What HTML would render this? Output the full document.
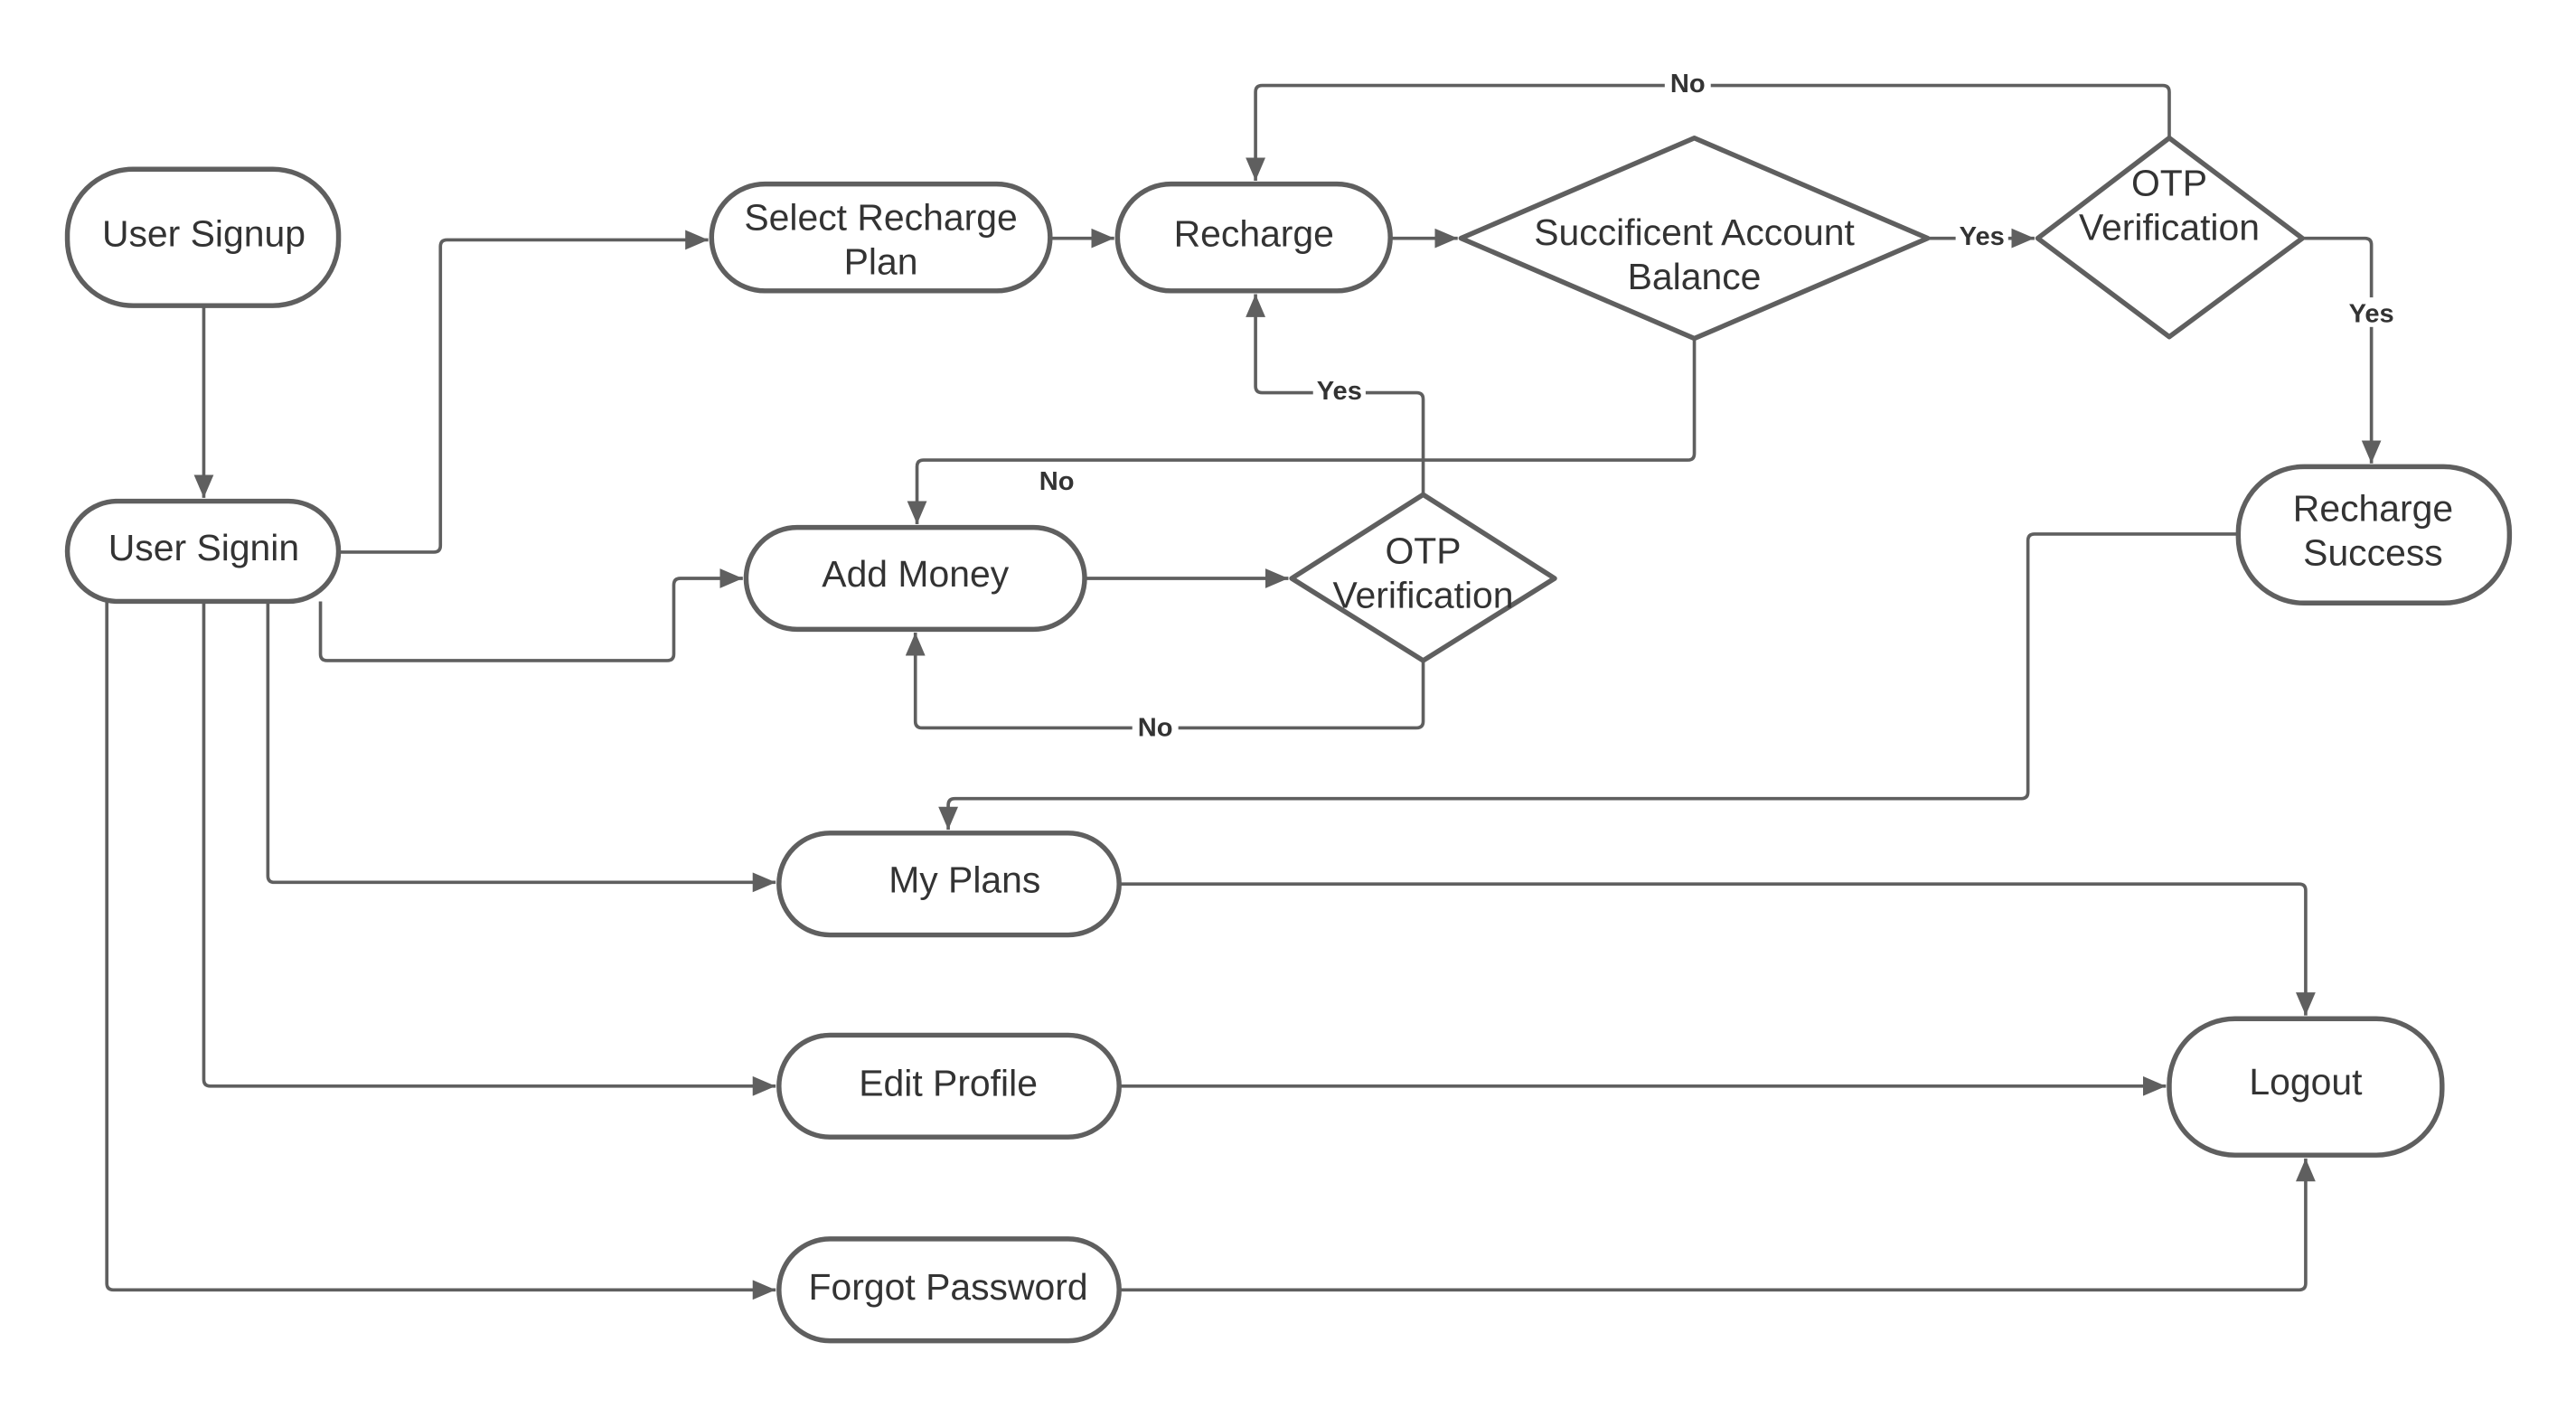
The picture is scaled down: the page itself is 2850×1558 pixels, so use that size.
<!DOCTYPE html>
<html><head><meta charset="utf-8"><style>
html,body{margin:0;padding:0;background:#fff;}
svg{display:block;}
text{font-family:"Liberation Sans",sans-serif;}
</style></head><body>
<svg width="2850" height="1558" viewBox="0 0 1567.5 856.9" preserveAspectRatio="none" xmlns="http://www.w3.org/2000/svg">
<defs>
<marker id="a" viewBox="0 0 14 12" refX="14" refY="6" markerWidth="14" markerHeight="12" markerUnits="userSpaceOnUse" orient="auto">
<path d="M0,0 L14,6 L0,12 Z" fill="#5f5f5f"/>
</marker>
</defs>
<g fill="none" stroke="#5f5f5f" stroke-width="2" stroke-linejoin="round" marker-end="url(#a)">
<path d="M124,186 V303"/>
<path d="M206,336 H264 Q268,336 268,332 V150 Q268,146 272,146 H431"/>
<path d="M195,366 V398 Q195,402 199,402 H406 Q410,402 410,398 V356 Q410,352 414,352 H452"/>
<path d="M163,366 V533 Q163,537 167,537 H472"/>
<path d="M124,366 V657 Q124,661 128,661 H472"/>
<path d="M65,366 V781 Q65,785 69,785 H472"/>
<path d="M639,145 H678"/>
<path d="M846,145 H887"/>
<path d="M1173,145 H1238"/>
<path d="M1320,84 V56 Q1320,52 1316,52 H768 Q764,52 764,56 V110"/>
<path d="M1401,145 H1439 Q1443,145 1443,149 V282"/>
<path d="M1031,206 V276 Q1031,280 1027,280 H562 Q558,280 558,284 V319"/>
<path d="M660,352 H784"/>
<path d="M866,301 V243 Q866,239 862,239 H768 Q764,239 764,235 V179"/>
<path d="M866,402 V439 Q866,443 862,443 H561 Q557,443 557,439 V385"/>
<path d="M1362,325 H1238 Q1234,325 1234,329 V482 Q1234,486 1230,486 H581 Q577,486 577,490 V505"/>
<path d="M681,538 H1399 Q1403,538 1403,542 V618"/>
<path d="M681,661 H1318"/>
<path d="M681,785 H1399 Q1403,785 1403,781 V705"/>
</g>
<g fill="#fff" stroke="#5f5f5f" stroke-width="3" stroke-linejoin="round">
<rect x="41" y="103" width="165" height="83" rx="40" ry="40"/>
<rect x="41" y="305" width="165" height="61" rx="30.5"/>
<rect x="433" y="112" width="206" height="65" rx="32.5"/>
<rect x="680" y="112" width="166" height="65" rx="32.5"/>
<path d="M1031,84 L1173,145 L1031,206 L889,145 Z"/>
<path d="M1320,84 L1401,145 L1320,205 L1240,145 Z"/>
<rect x="1362" y="284" width="165" height="83" rx="40" ry="40"/>
<rect x="454" y="321" width="206" height="62" rx="31"/>
<path d="M866,301 L946,352 L866,402 L786,352 Z"/>
<rect x="474" y="507" width="207" height="62" rx="31"/>
<rect x="474" y="630" width="207" height="62" rx="31"/>
<rect x="474" y="754" width="207" height="62" rx="31"/>
<rect x="1320" y="620" width="166" height="83" rx="40" ry="40"/>
</g>
<g fill="#333" font-size="22.5" text-anchor="middle">
<text x="124" y="150">User Signup</text>
<text x="124" y="341">User Signin</text>
<text x="536" y="140">Select Recharge</text>
<text x="536" y="167">Plan</text>
<text x="763" y="150">Recharge</text>
<text x="1031" y="149">Succificent Account</text>
<text x="1031" y="176">Balance</text>
<text x="1320" y="119">OTP</text>
<text x="1320" y="146">Verification</text>
<text x="1444" y="317">Recharge</text>
<text x="1444" y="344">Success</text>
<text x="557" y="357">Add Money</text>
<text x="866" y="343">OTP</text>
<text x="866" y="370">Verification</text>
<text x="587" y="543">My Plans</text>
<text x="577" y="667">Edit Profile</text>
<text x="577" y="791">Forgot Password</text>
<text x="1403" y="666">Logout</text>
</g>
<g font-size="16" font-weight="bold" fill="#333" text-anchor="middle">
<rect x="1190" y="135" width="32" height="18" fill="#fff"/><text x="1206" y="149">Yes</text>
<rect x="1013" y="42" width="28" height="18" fill="#fff"/><text x="1027" y="56">No</text>
<rect x="1427" y="181" width="32" height="18" fill="#fff"/><text x="1443" y="196">Yes</text>
<text x="643" y="298">No</text>
<rect x="799" y="229" width="32" height="18" fill="#fff"/><text x="815" y="243">Yes</text>
<rect x="689" y="434" width="28" height="18" fill="#fff"/><text x="703" y="448">No</text>
</g>
</svg>
</body></html>
